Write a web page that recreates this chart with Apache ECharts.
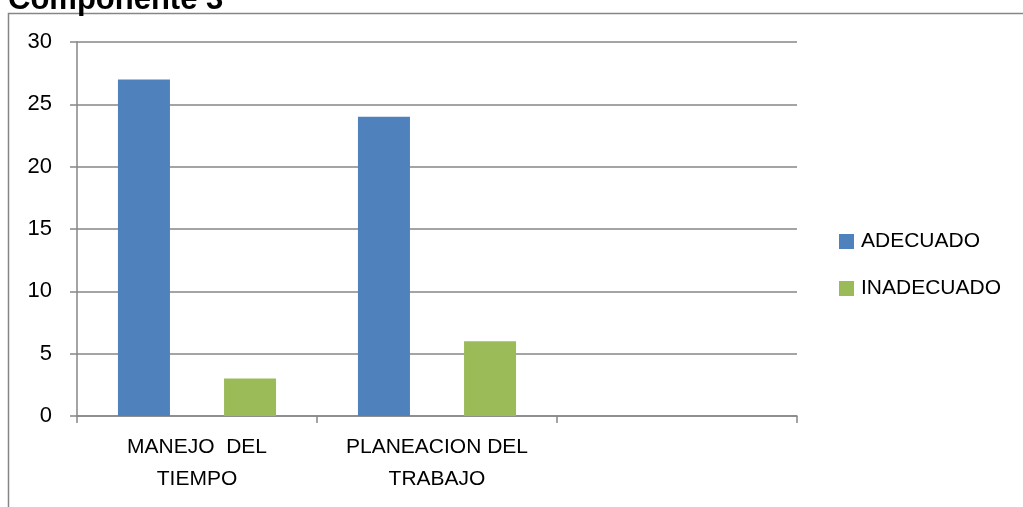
<!DOCTYPE html>
<html>
<head>
<meta charset="utf-8">
<script src="https://cdn.jsdelivr.net/npm/echarts@6/dist/echarts.min.js"></script>
<style>
  html, body { margin: 0; padding: 0; background: #fff; }
  #app { width: 1023px; height: 507px; }
</style>
</head>
<body>
<div id="app"></div>
<script>
const categories = ['MANEJO  DEL\nTIEMPO', 'PLANEACION DEL\nTRABAJO', '']
const adecuado = [27, 24, null]
const inadecuado = [3, 6, null]
const seriesNames = ['ADECUADO', 'INADECUADO']
const yTicks = { min: 0, max: 30, interval: 5 }

const font = '"Liberation Sans", Arial, sans-serif'
const gray = '#868686'

const chart = echarts.init(document.getElementById('app'))

chart.setOption({
  animation: false,
  title: {
    text: 'Componente 3',
    left: 3,
    top: -20,
    textStyle: {
      fontFamily: font,
      fontWeight: 'bold',
      fontSize: 31,
      color: '#000'
    }
  },
  graphic: [
    {
      type: 'polyline',
      shape: { points: [[8.5, 510], [8.5, 13.5], [1030, 13.5]] },
      style: { stroke: gray, lineWidth: 1.5, fill: null }
    }
  ],
  legend: {
    orient: 'vertical',
    left: 834,
    top: 226,
    itemWidth: 15,
    itemHeight: 15,
    itemGap: 26,
    icon: 'rect',
    textStyle: {
      fontFamily: font,
      fontSize: 21,
      color: '#000',
      padding: [0, 0, 0, 2]
    },
    data: seriesNames
  },
  grid: {
    left: 77,
    right: 226,
    top: 42,
    bottom: 91
  },
  xAxis: {
    type: 'category',
    data: categories,
    axisLine: { lineStyle: { color: gray, width: 1.5 } },
    axisTick: { show: true, length: 7, alignWithLabel: false, lineStyle: { color: gray, width: 1.5 } },
    axisLabel: {
      interval: 0,
      margin: 15,
      fontFamily: font,
      fontSize: 21,
      lineHeight: 32,
      color: '#000'
    }
  },
  yAxis: {
    type: 'value',
    min: yTicks.min,
    max: yTicks.max,
    interval: yTicks.interval,
    axisLine: { show: true, lineStyle: { color: gray, width: 1.5 } },
    axisTick: { show: true, length: 7, lineStyle: { color: gray, width: 1.5 } },
    splitLine: { lineStyle: { color: gray, width: 1.5 } },
    axisLabel: {
      margin: 25,
      fontFamily: font,
      fontSize: 22,
      color: '#000'
    }
  },
  series: [
    {
      name: seriesNames[0],
      type: 'bar',
      data: adecuado,
      barWidth: 52,
      barGap: '104%',
      itemStyle: { color: '#4F81BD' }
    },
    {
      name: seriesNames[1],
      type: 'bar',
      data: inadecuado,
      barWidth: 52,
      itemStyle: { color: '#9BBB59' }
    }
  ]
})
</script>
</body>
</html>
